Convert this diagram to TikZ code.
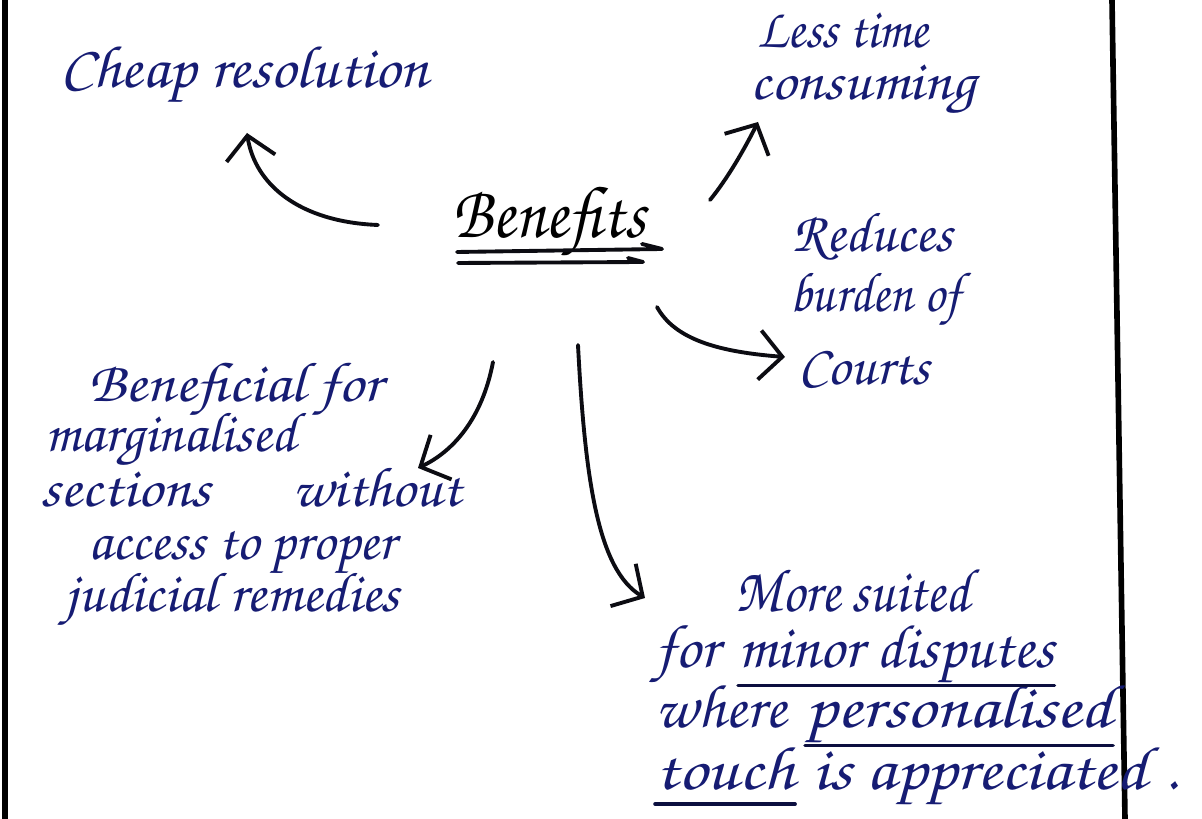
\documentclass[tikz,border=0pt]{standalone}
\usepackage[T1,TU]{fontenc}
\usetikzlibrary{arrows.meta}
\definecolor{ink}{RGB}{22,28,115}
\definecolor{pencil}{RGB}{12,12,18}
\newcommand\handfont{\fontencoding{T1}\fontfamily{pzc}\fontseries{mb}\fontshape{it}\selectfont}
% horizontal stretch of a word group
\newcommand\hs[2]{\scalebox{#1}[1]{#2}}
\tikzset{
  hand/.style={anchor=base west, inner sep=0pt, text=ink,
    font={\handfont\fontsize{16}{19}\selectfont}},
  big/.style={font={\handfont\fontsize{17.5}{20}\selectfont}},
  title/.style={anchor=base west, inner sep=0pt, text=black,
    font={\handfont\fontsize{21}{25}\selectfont}},
  arr/.style={draw=pencil, line width=1.1pt, line cap=round, line join=round,
    -{Straight Barb[length=6.5pt,width=14pt,line width=1.1pt]}},
  stroke/.style={draw=pencil, line width=1.1pt, line cap=round, line join=round},
  uline/.style={draw=ink!55!black, line width=1pt, line cap=round},
  border/.style={draw=black, line width=1.6pt},
}
\begin{document}
\begin{tikzpicture}[x=0.01cm,y=-0.01cm]
\useasboundingbox[fill=white] (0,0) rectangle (1202,819);

% page rules
\draw[border] (5,0) -- (5,819);
\draw[border] (1112,0) -- (1125,819);

% centre
\node[title] (benefits) at (452,238) {\hs{0.9}{Benefits}};
\draw[stroke] (457,252) -- (662,249) -- (642,244);
\draw[stroke] (458,263) -- (643,262) -- (628,258);

% branches
\node[hand, font={\handfont\fontsize{17}{20}\selectfont}] (cheap) at (60,88) {\hs{1.05}{Cheap resolution}};

\node[hand] (less1) at (757,48) {\hs{0.92}{Less time}};
\node[hand] (less2) at (750,100) {\hs{1.08}{consuming}};

\node[hand] (red1) at (792,252) {Reduces};
\node[hand] (red2) at (790,312) {\hs{0.9}{burden of}};
\node[hand] (red3) at (798,385) {Courts};

\node[hand] (ben1) at (88,402) {\hs{1.1}{Beneficial for}};
\node[hand] (ben2) at (45,452) {marginalised};
\node[hand] (ben3a) at (40,507) {\hs{1.1}{sections}};
\node[hand] (ben3b) at (292,507) {\hs{1.05}{without}};
\node[hand] (ben4) at (88,560) {access to proper};
\node[hand] (ben5) at (65,612) {\hs{1.03}{judicial remedies}};

\node[hand, big] (more1) at (735,612) {\hs{0.9}{More suited}};
\node[hand, big] (more2a) at (655,668) {for};
\node[hand, big] (more2b) at (738,668) {minor disputes};
\node[hand, big] (more3a) at (655,728) {where};
\node[hand, big] (more3b) at (805,728) {\hs{1.17}{personalised}};
\node[hand, big] (more4a) at (655,790) {\hs{1.15}{touch}};
\node[hand, big] (more4b) at (812,790) {\hs{1.13}{is appreciated}\hspace{5pt}.};

% underlined words
\draw[uline] ([yshift=-5pt]more2b.base west) -- ([yshift=-5pt]more2b.base east);
\draw[uline] ([yshift=-5pt]more3b.base west) -- ([yshift=-5pt]more3b.base east);
\draw[uline] ([yshift=-4pt]more4a.base west) -- ([yshift=-4pt]more4a.base east);

% arrow ends
\coordinate (fromW)  at (378,225);
\coordinate (toCheap) at (247,133);
\coordinate (fromNE) at (710,200);
\coordinate (toLess) at (758,122);
\coordinate (fromE)  at (657,307);
\coordinate (toRed)  at (785,357);
\coordinate (fromSW) at (493,362);
\coordinate (toBen)  at (418,468);
\coordinate (fromS)  at (578,345);
\coordinate (toMore) at (645,598);

\draw[arr] (fromW) .. controls (300,222) and (255,185) .. (toCheap);
\draw[arr] (fromNE) .. controls (728,178) and (745,148) .. (toLess);
\draw[arr] (fromE) .. controls (675,340) and (720,352) .. (toRed);
\draw[arr] (fromSW) .. controls (482,420) and (452,452) .. (toBen);
\draw[arr] (fromS) .. controls (585,480) and (598,570) .. (toMore);
\end{tikzpicture}
\end{document}
